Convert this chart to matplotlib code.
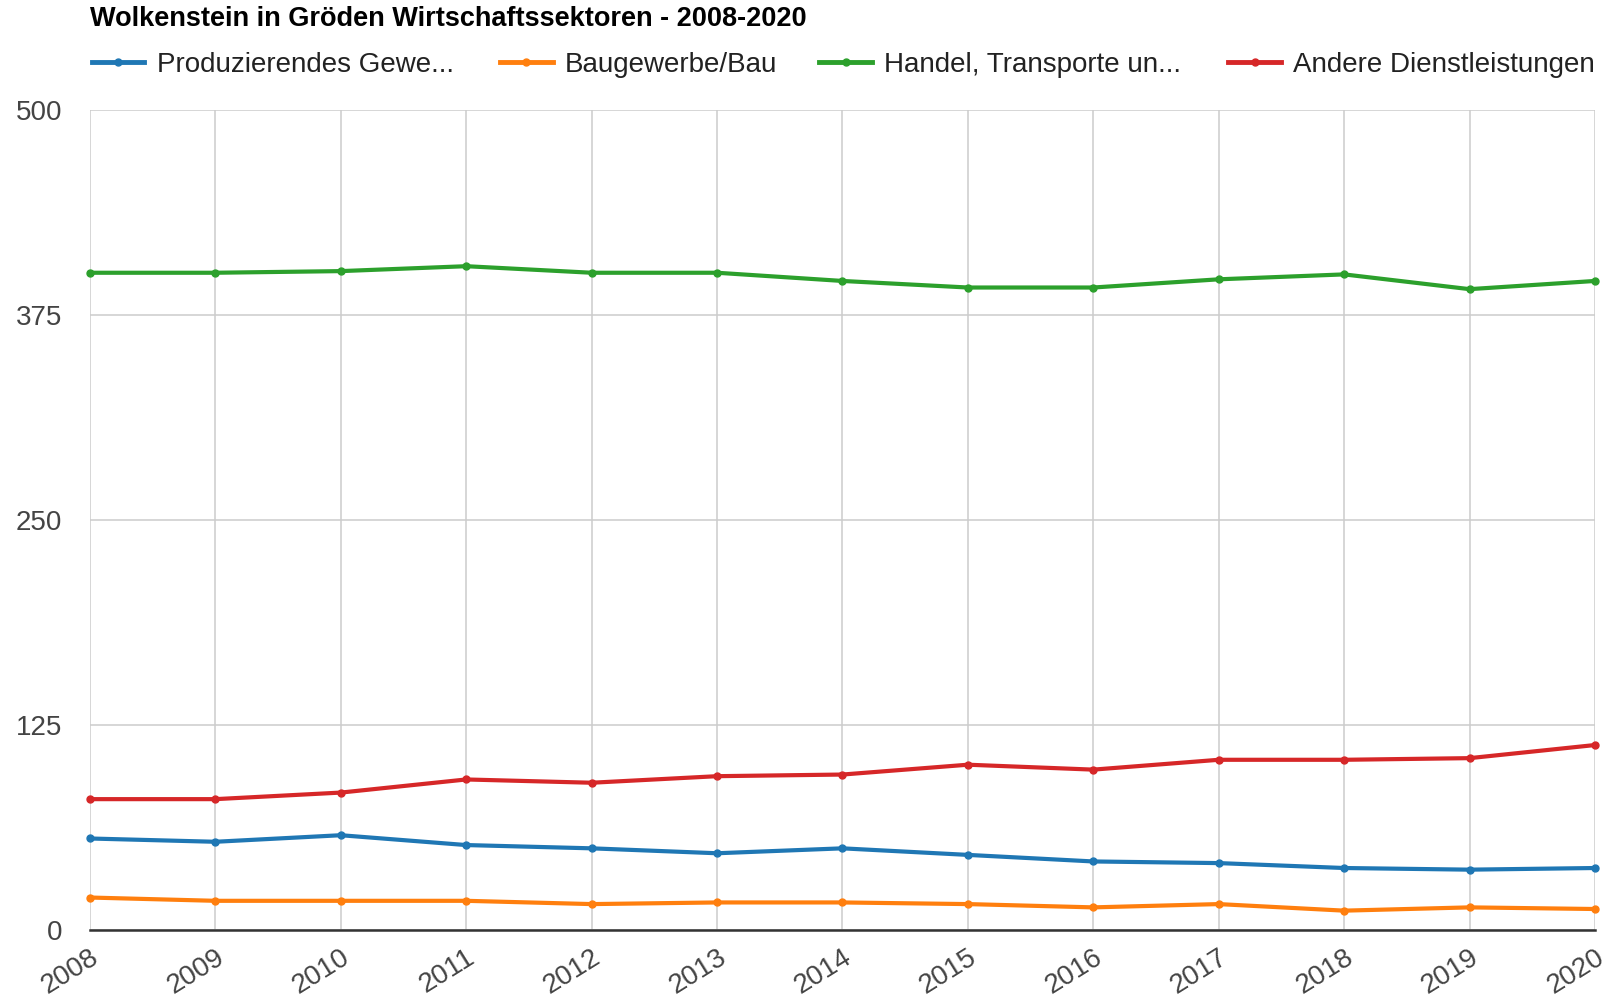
import matplotlib
matplotlib.use('Agg')
import matplotlib.pyplot as plt
from matplotlib.lines import Line2D

plt.rcParams['font.family'] = ['Liberation Sans', 'DejaVu Sans']

# data
years = [2008, 2009, 2010, 2011, 2012, 2013, 2014, 2015, 2016, 2017, 2018, 2019, 2020]
produzierendes = [56, 54, 58, 52, 50, 47, 50, 46, 42, 41, 38, 37, 38]
baugewerbe = [20, 18, 18, 18, 16, 17, 17, 16, 14, 16, 12, 14, 13]
handel = [401, 401, 402, 405, 401, 401, 396, 392, 392, 397, 400, 391, 396]
andere = [80, 80, 84, 92, 90, 94, 95, 101, 98, 104, 104, 105, 113]

series_names = ['Produzierendes Gewe...', 'Baugewerbe/Bau', 'Handel, Transporte un...', 'Andere Dienstleistungen']
series_values = [produzierendes, baugewerbe, handel, andere]
colors = ['#1f77b4', '#ff7f0e', '#2ca02c', '#d62728']
y_ticks = [0, 125, 250, 375, 500]

fig = plt.figure(figsize=(16.03, 10.01), dpi=100)
ax = fig.add_axes([0.0561, 0.0706, 0.9389, 0.8191])

for vals, c in zip(series_values, colors):
    ax.plot(years, vals, color=c, linewidth=3, marker='o', markersize=5, clip_on=False, zorder=3)

ax.set_xlim(years[0], years[-1])
ax.set_ylim(0, 500)
ax.set_xticks(years)
ax.set_xticklabels([str(y) for y in years], rotation=32, ha='right', rotation_mode='anchor',
                   fontsize=20, color='#444444')
ax.set_yticks(y_ticks)
ax.set_yticklabels([str(v) for v in y_ticks], fontsize=20, color='#444444')
ax.tick_params(axis='both', length=0)
ax.tick_params(axis='y', pad=20)
ax.tick_params(axis='x', pad=10)

ax.grid(True, color='#cccccc', linewidth=1.1)
ax.set_axisbelow(True)
for s in ['top', 'right', 'left']:
    ax.spines[s].set_visible(False)
ax.spines['bottom'].set_color('#333333')
ax.spines['bottom'].set_linewidth(1.8)
ax.spines['bottom'].set_zorder(4)

fig.text(0.0561, 0.981, 'Wolkenstein in Gröden Wirtschaftssektoren - 2008-2020',
         fontsize=19.5, fontweight='bold', color='#000000', va='center', ha='left')

# legend, one entry per block like the original layout
leg_x = [0.0571, 0.3118, 0.5110, 0.7662]
for name, c, x in zip(series_names, colors, leg_x):
    h = Line2D([], [], color=c, linewidth=3.5, marker='o', markersize=5)
    fig.legend([h], [name], loc='center left', bbox_to_anchor=(x, 0.935),
               frameon=False, fontsize=20, handlelength=1.9, handletextpad=0.45,
               borderpad=0, borderaxespad=0, labelcolor='#222222')

fig.savefig('out.png', dpi=100)
